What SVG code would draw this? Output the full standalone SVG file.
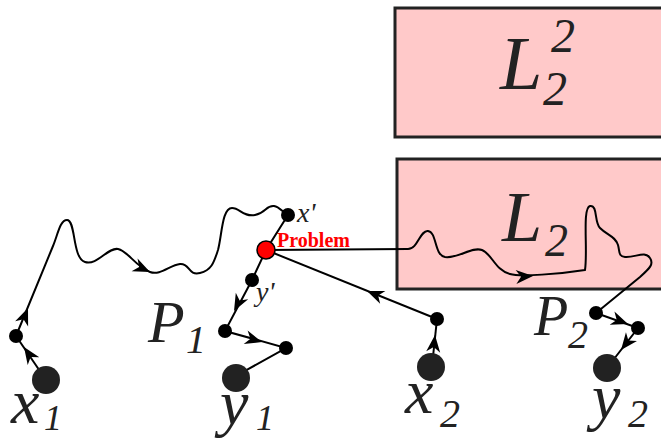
<svg xmlns="http://www.w3.org/2000/svg" xmlns:xlink="http://www.w3.org/1999/xlink" width="661" height="438" viewBox="0 0 661 438">
<style>
.box{fill:#ffc9c9;stroke:#222;stroke-width:3}
.ln{fill:none;stroke:#000;stroke-width:2}
.big{fill:#222}
.sm{fill:#000}
.lab{font-family:"Liberation Serif",serif;font-style:italic;fill:#222}
.prob{font-family:"Liberation Serif",serif;font-weight:bold;fill:#ff0000;font-size:20px}
</style>
<defs>
<path id="ah" d="M0,0 L-17,-7 L-12,0 L-17,7 Z" fill="#000"/>
</defs>
<g id="L22">
<rect class="box" x="395" y="8" width="280" height="129"/>
<text class="lab" x="500" y="89" font-size="76">L</text>
<text class="lab" x="543" y="105" font-size="48">2</text>
<text class="lab" x="551" y="52" font-size="48">2</text>
</g>
<g id="L2">
<rect class="box" x="397" y="159" width="280" height="130"/>
<text class="lab" x="502" y="241" font-size="72">L</text>
<text class="lab" x="545" y="256" font-size="46">2</text>
</g>
<g id="connectors">
<line class="ln" x1="46" y1="380" x2="16" y2="336"/>
<path class="ln" d="M16,336 L53,246 C58,234 60,220 67,220 C76,220 72,258 85,262 C97,266 108,247 118,249 C128,251 135,266 150,272 C160,276 170,265 180,264 C190,263 188,276 200,273 C212,270 214,262 218,250 C222,235 222,208 232,208 C240,208 243,217 255,215 C266,213 266,205 274,206 C280,207 282,212 288,215"/>
<polyline class="ln" points="288,215 266,250 252,280 225,331 286,348 234,377"/>
<path class="ln" d="M266,250 L408,249 C418,249 420,230 428,231 C437,232 434,255 445,257 C458,259 472,246 482,250 C492,254 495,270 510,274 C520,277 560,274 585,270 C588,250 582,208 590,206 C598,205 594,222 600,228 C608,236 615,236 618,245 C620,252 618,256 625,257 C635,258 645,250 650,258 C654,264 650,268 640,277 L596,313"/>
<polyline class="ln" points="596,313 638,328 607,368"/>
<line class="ln" x1="266" y1="250" x2="437" y2="319"/>
<line class="ln" x1="432" y1="366" x2="437" y2="319"/>
<use xlink:href="#ah" transform="translate(24,347) rotate(-124)"/>
<use xlink:href="#ah" transform="translate(28,308) rotate(-68)"/>
<use xlink:href="#ah" transform="translate(150,272) rotate(25)"/>
<use xlink:href="#ah" transform="translate(234,311) rotate(118)"/>
<use xlink:href="#ah" transform="translate(262,342) rotate(16)"/>
<use xlink:href="#ah" transform="translate(367,291) rotate(-158)"/>
<use xlink:href="#ah" transform="translate(435,335) rotate(-84)"/>
<use xlink:href="#ah" transform="translate(533,276) rotate(-3)"/>
<use xlink:href="#ah" transform="translate(628,324) rotate(20)"/>
<use xlink:href="#ah" transform="translate(621,350) rotate(128)"/>
</g>
<g id="x1"><circle class="big" cx="46" cy="380" r="14"/><text class="lab" x="11" y="423" font-size="64">x</text><text class="lab" x="44" y="430" font-size="36">1</text></g>
<g id="n1"><circle class="sm" cx="16" cy="336" r="7"/></g>
<g id="xp"><circle class="sm" cx="288" cy="215" r="7"/><text class="lab" x="297" y="222" font-size="28">x'</text></g>
<g id="problem"><circle cx="266" cy="250" r="9" fill="#ff0000" stroke="#000" stroke-width="1.5"/><text class="prob" x="277" y="247">Problem</text></g>
<g id="yp"><circle class="sm" cx="252" cy="280" r="7"/><text class="lab" x="256" y="301" font-size="28">y'</text></g>
<g id="P1"><circle class="sm" cx="225" cy="331" r="7"/><text class="lab" x="148" y="342" font-size="60">P</text><text class="lab" x="186" y="353" font-size="40">1</text></g>
<g id="n2"><circle class="sm" cx="286" cy="348" r="7"/></g>
<g id="y1"><circle class="big" cx="236" cy="378" r="14"/><text class="lab" x="220" y="424" font-size="64">y</text><text class="lab" x="256" y="430" font-size="36">1</text></g>
<g id="x2node"><circle class="sm" cx="437" cy="319" r="7"/></g>
<g id="x2"><circle class="big" cx="431" cy="367" r="14"/><text class="lab" x="405" y="413" font-size="64">x</text><text class="lab" x="440" y="427" font-size="40">2</text></g>
<g id="P2"><circle class="sm" cx="596" cy="313" r="7"/><text class="lab" x="534" y="335" font-size="56">P</text><text class="lab" x="568" y="348" font-size="40">2</text></g>
<g id="n3"><circle class="sm" cx="638" cy="328" r="7"/></g>
<g id="y2"><circle class="big" cx="607" cy="368" r="14"/><text class="lab" x="592" y="418" font-size="64">y</text><text class="lab" x="628" y="427" font-size="40">2</text></g>
</svg>
